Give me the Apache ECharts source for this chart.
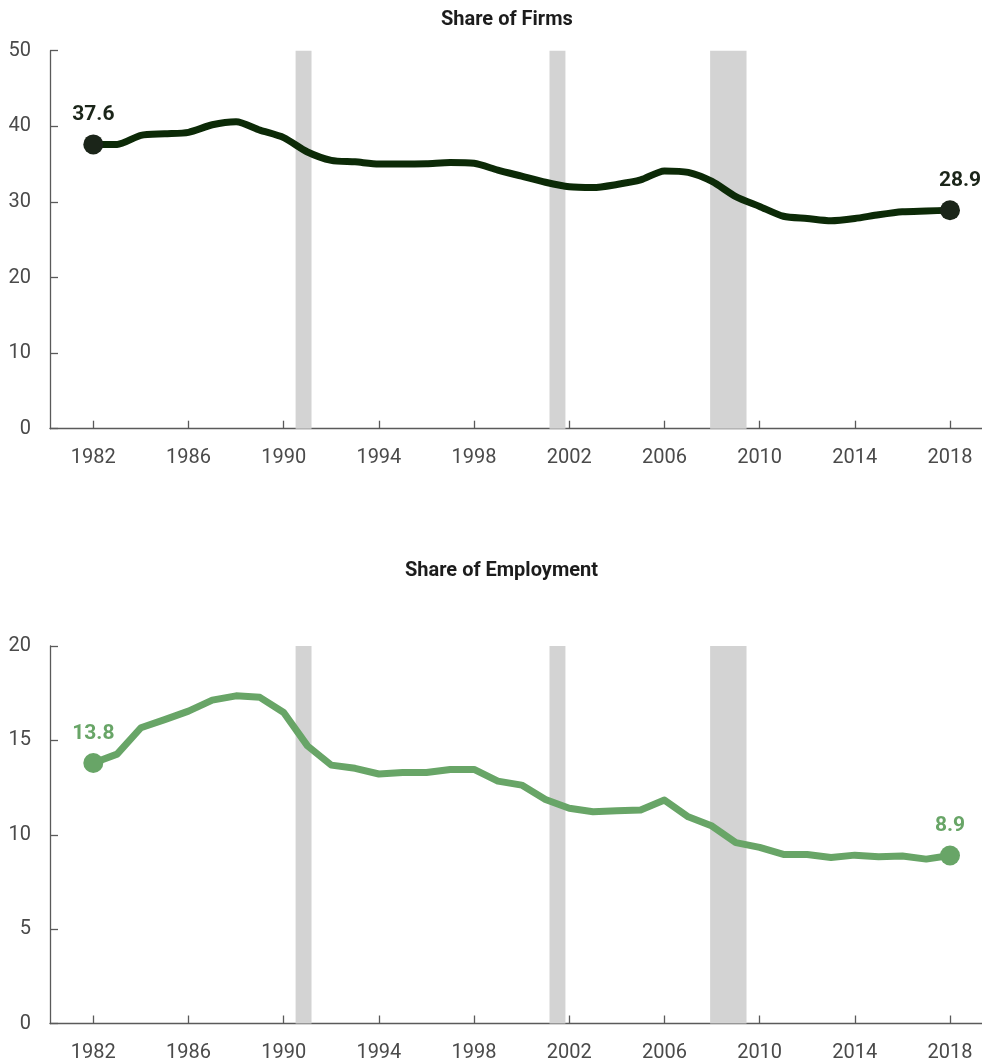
<!DOCTYPE html>
<html>
<head>
<meta charset="utf-8">
<title>Share of Firms and Share of Employment</title>
<script src="https://cdn.jsdelivr.net/npm/echarts@6/dist/echarts.min.js"></script>
<style>
  html, body { margin: 0; padding: 0; background: #ffffff; }
  #chart { width: 982px; height: 1064px; }
</style>
</head>
<body>
<div id="chart"></div>
<script>
// Annual series, 1982-2018
const years = [1982, 1983, 1984, 1985, 1986, 1987, 1988, 1989, 1990, 1991,
  1992, 1993, 1994, 1995, 1996, 1997, 1998, 1999, 2000, 2001,
  2002, 2003, 2004, 2005, 2006, 2007, 2008, 2009, 2010, 2011,
  2012, 2013, 2014, 2015, 2016, 2017, 2018];

const shareOfFirms = [37.6, 37.6, 38.8, 39.0, 39.2, 40.2, 40.6, 39.5, 38.5, 36.6,
  35.5, 35.3, 35.0, 35.0, 35.05, 35.2, 35.1, 34.2, 33.4, 32.6,
  32.0, 31.9, 32.3, 32.9, 34.1, 33.9, 32.7, 30.7, 29.4, 28.1,
  27.8, 27.5, 27.8, 28.3, 28.7, 28.8, 28.9];

const shareOfEmployment = [13.8, 14.27, 15.67, 16.1, 16.55, 17.13, 17.36, 17.28, 16.48, 14.71,
  13.69, 13.52, 13.22, 13.3, 13.3, 13.46, 13.46, 12.84, 12.63, 11.87,
  11.4, 11.22, 11.27, 11.31, 11.84, 10.95, 10.46, 9.58, 9.33, 8.96,
  8.95, 8.8, 8.92, 8.83, 8.87, 8.71, 8.9];

// Tick labels on the year axis
const yearTicks = [1982, 1986, 1990, 1994, 1998, 2002, 2006, 2010, 2014, 2018];

// Recession periods (start, end) in fractional years
const recessions = [[1990.5, 1991.17], [2001.17, 2001.84], [2007.92, 2009.45]];

const titles = ['Share of Firms', 'Share of Employment'];

const FONT = 'Roboto, "Noto Sans", sans-serif';
const AXIS_GREY = '#5a5a5a';
const LABEL_GREY = '#4a4a4a';

function pointData(values, labelColor, endOffsets) {
  const last = values.length - 1;
  return values.map((v, i) => {
    if (i === 0 || i === last) {
      return {
        value: [years[i], v],
        symbolSize: 20,
        label: {
          show: true,
          position: 'top',
          distance: 9,
          offset: i === last ? endOffsets : [0, 0],
          formatter: (p) => p.value[1].toFixed(1),
          color: labelColor,
          fontFamily: FONT,
          fontWeight: 'bold',
          fontSize: 21
        }
      };
    }
    return { value: [years[i], v], symbolSize: 0 };
  });
}

function xAxisFor(gridIndex) {
  return {
    type: 'value',
    gridIndex: gridIndex,
    min: 1980.18,
    max: 2019.345,
    splitLine: { show: false },
    axisLine: { show: true, onZero: false, lineStyle: { color: AXIS_GREY, width: 1.3 } },
    axisTick: {
      show: true, inside: true, length: 8, customValues: yearTicks,
      lineStyle: { color: AXIS_GREY, width: 1.3 }
    },
    axisLabel: {
      show: true, customValues: yearTicks, margin: 19,
      color: LABEL_GREY, fontFamily: FONT, fontSize: 20,
      formatter: (v) => String(v)
    }
  };
}

function yAxisFor(gridIndex, max, interval) {
  return {
    type: 'value',
    gridIndex: gridIndex,
    min: 0,
    max: max,
    interval: interval,
    splitLine: { show: false },
    axisLine: { show: true, lineStyle: { color: AXIS_GREY, width: 1.3 } },
    axisTick: { show: true, inside: true, length: 8, lineStyle: { color: AXIS_GREY, width: 1.3 } },
    axisLabel: { margin: 19, color: LABEL_GREY, fontFamily: FONT, fontSize: 20 }
  };
}

const recessionArea = {
  silent: true,
  itemStyle: { color: '#d3d3d3' },
  data: recessions.map(([a, b]) => [{ xAxis: a }, { xAxis: b }])
};

const chart = echarts.init(document.getElementById('chart'), null, { renderer: 'canvas' });

chart.setOption({
  backgroundColor: '#ffffff',
  animation: false,
  title: [
    {
      text: titles[0], left: 436, top: 5,
      textStyle: { fontFamily: FONT, fontWeight: 'bold', fontSize: 20, color: '#1c1c1c' }
    },
    {
      text: titles[1], left: 400, top: 556,
      textStyle: { fontFamily: FONT, fontWeight: 'bold', fontSize: 20, color: '#1c1c1c' }
    }
  ],
  grid: [
    { left: 50, right: 0, top: 50.7, height: 378 },
    { left: 50, right: 0, top: 646, height: 377.5 }
  ],
  xAxis: [xAxisFor(0), xAxisFor(1)],
  yAxis: [yAxisFor(0, 50, 10), yAxisFor(1, 20, 5)],
  series: [
    {
      name: titles[0],
      type: 'line',
      xAxisIndex: 0,
      yAxisIndex: 0,
      smooth: 0.25,
      symbol: 'circle',
      showAllSymbol: true,
      data: pointData(shareOfFirms, '#1b2519', [10, 0]),
      lineStyle: { color: '#0c2a07', width: 7, join: 'round', cap: 'round' },
      itemStyle: { color: '#1b2519' },
      markArea: recessionArea,
      z: 3
    },
    {
      name: titles[1],
      type: 'line',
      xAxisIndex: 1,
      yAxisIndex: 1,
      symbol: 'circle',
      showAllSymbol: true,
      data: pointData(shareOfEmployment, '#68a567', [0, 0]),
      lineStyle: { color: '#68a567', width: 7, join: 'round', cap: 'round' },
      itemStyle: { color: '#68a567' },
      markArea: recessionArea,
      z: 3
    }
  ]
});
</script>
</body>
</html>
